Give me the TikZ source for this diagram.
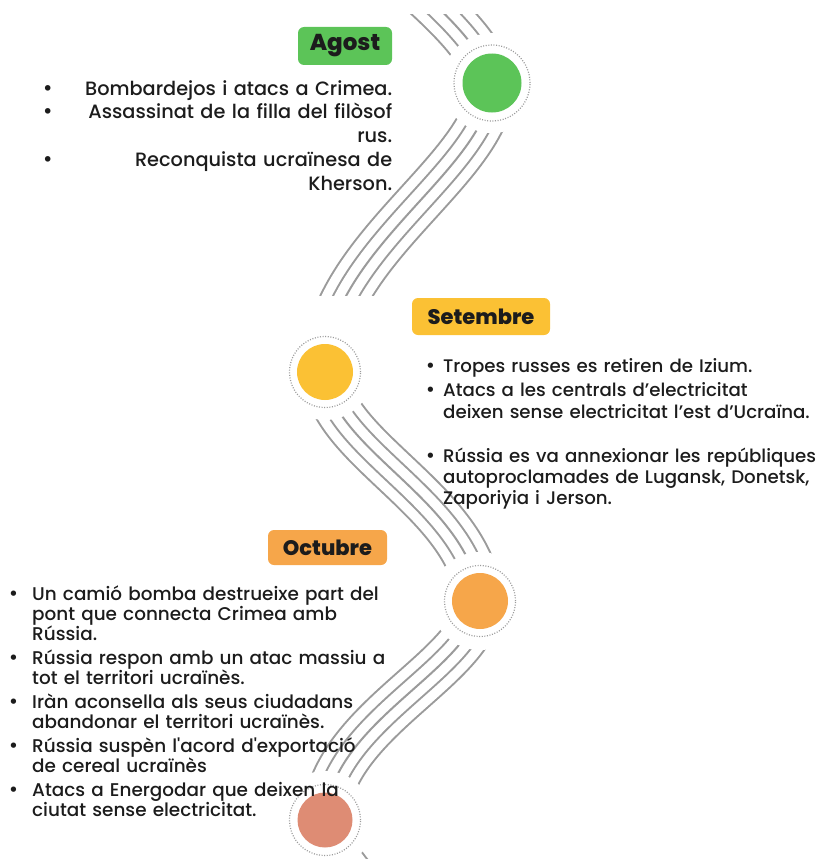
\documentclass[tikz,border=0pt]{standalone}
\usepackage{fontspec}
\setmainfont{Poppins}[Ligatures=TeXOff, UprightFont={* Medium}, BoldFont={* ExtraBold}]
\newfontfamily\symfont{DejaVu Sans}

\definecolor{agostgreen}{RGB}{92,196,88}
\definecolor{setyellow}{RGB}{251,193,52}
\definecolor{octorange}{RGB}{246,166,74}
\definecolor{lastsalmon}{RGB}{222,140,116}
\definecolor{wiregray}{RGB}{155,155,155}
\definecolor{ink}{RGB}{28,28,28}

\tikzset{
  month/.style={rounded corners=6pt, inner sep=0pt, text=ink,
    font=\fontsize{21}{21}\bfseries\selectfont},
  dot/.style={circle, fill=#1, minimum size=56pt, inner sep=0pt},
  ring/.style={wiregray, line width=1.2pt, dash pattern=on 1pt off 1.6pt},
  items/.style={inner sep=0pt, text=ink, font=\fontsize{18.2}{21.3}\selectfont},
}

% five grey wires along one path
\newcommand{\wirebundle}[1]{%
  \foreach \wd/\col in {48/wiregray,44/white,25/wiregray,21/white,2/wiregray}
    {\draw[line width=\wd pt, draw=\col] #1;}}
\newcommand{\blt}{{\symfont •}}
\newcommand{\bul}[1][18pt]{\makebox[#1][l]{\blt}}

\begin{document}
\begin{tikzpicture}[x=1pt,y=-1pt]
\useasboundingbox (0,0) rectangle (822,859);

\coordinate (entry)    at (380,-45);
\coordinate (agost)    at (492,83);
\coordinate (setembre) at (325,372);
\coordinate (octubre)  at (480,601);
\coordinate (final)    at (325,820);
\coordinate (exit)     at (480,1048);

% wires
\begin{scope}
  \clip (0,15) rectangle (822,295);
  \wirebundle{(entry) .. controls (430,0) and (480,40) .. (agost)}
  \wirebundle{(agost) .. controls (490,170) and (325,250) .. (setembre)}
\end{scope}
\begin{scope}
  \clip (0,300) rectangle (822,859);
  \wirebundle{(setembre) .. controls (330,450) and (470,500) .. (octubre)}
  \wirebundle{(octubre) .. controls (475,670) and (330,720) .. (final)}
  \wirebundle{(final) .. controls (330,898) and (470,948) .. (exit)}
\end{scope}

% gaps round the dots
\fill[white] (agost) circle (50pt);
\fill[white] (setembre) circle (48pt);
\fill[white] (octubre) circle (49pt);
\fill[white] (final) circle (49pt);

% dots
\node[dot=agostgreen, minimum size=59pt] (agostdot) at (agost) {};
\draw[ring] (agost) circle (38pt);
\node[dot=setyellow] (setdot) at (setembre) {};
\draw[ring] (setembre) circle (35.5pt);
\node[dot=octorange] (octdot) at (octubre) {};
\draw[ring] (octubre) circle (35.5pt);
\node[dot=lastsalmon, minimum size=55pt] (finaldot) at (final) {};
\draw[ring] (final) circle (35.5pt);

% month labels
\node[month, fill=agostgreen, minimum width=94pt, minimum height=38pt,
      font=\fontsize{23}{23}\bfseries\selectfont] (agostlabel) at (345,46) {Agost};
\node[month, fill=setyellow, minimum width=138pt, minimum height=37pt] (setlabel) at (481,316.5) {Setembre};
\node[month, fill=octorange, minimum width=119pt, minimum height=35pt] (octlabel) at (327.5,547.5) {Octubre};

% events
\node[items, anchor=base west, text width=350pt, align=right,
      font=\fontsize{19.3}{23.8}\selectfont] (agostlist) at (42,95) {%
\blt\hfill Bombardejos i atacs a Crimea.\\
\blt\hfill Assassinat de la filla del filòsof\\
rus.\\
\blt\hfill Reconquista ucraïnesa de\\
Kherson.};

\node[items, anchor=base west, text width=400pt, align=left] (setlist) at (425,372) {%
\bul Tropes russes es retiren de Izium.\\[3.4pt]
\bul Atacs a les centrals d’electricitat\\
\hspace*{18pt}deixen sense electricitat l’est d’Ucraïna.\\[22.7pt]
\bul Rússia es va annexionar les repúbliques\\
\hspace*{18pt}autoproclamades de Lugansk, Donetsk,\\
\hspace*{18pt}Zaporiyia i Jerson.};

\node[items, anchor=base west, text width=400pt, align=left,
      font=\fontsize{18.4}{20}\selectfont] (octlist) at (8,600) {%
\bul[24pt]Un camió bomba destrueixe part del\\
\hspace*{24pt}pont que connecta Crimea amb\\
\hspace*{24pt}Rússia.\\[4pt]
\bul[24pt]Rússia respon amb un atac massiu a\\
\hspace*{24pt}tot el territori ucraïnès.\\[4pt]
\bul[24pt]Iràn aconsella als seus ciudadans\\
\hspace*{24pt}abandonar el territori ucraïnès.\\[4pt]
\bul[24pt]Rússia suspèn l'acord d'exportació\\
\hspace*{24pt}de cereal ucraïnès\\[4pt]
\bul[24pt]Atacs a Energodar que deixen la\\
\hspace*{24pt}ciutat sense electricitat.};

\end{tikzpicture}
\end{document}
